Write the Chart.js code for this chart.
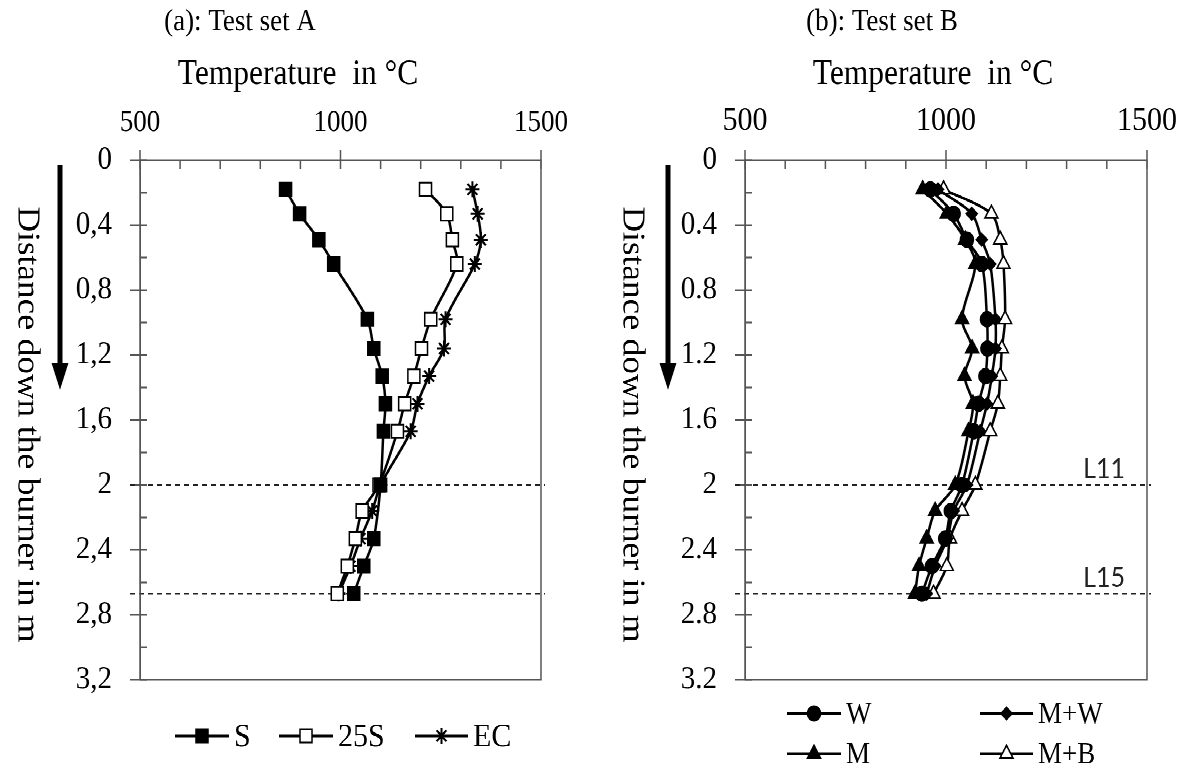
<!DOCTYPE html>
<html>
<head>
<meta charset="utf-8">
<script src="https://cdn.jsdelivr.net/npm/chart.js@4.4.1/dist/chart.umd.min.js"></script>
<style>
  html, body { margin: 0; background: #fff; }
  body { width: 1187px; height: 772px; overflow: hidden; }
  /* the source figure is stretched a little vertically, so the whole thing is too */
  #wrap { position: relative; width: 1187px; height: 689px; transform: scaleY(1.12); transform-origin: 0 0; }
  canvas { position: absolute; top: 0; }
  #chartA { left: 0; }
  #chartB { left: 600px; }
</style>
</head>
<body>
<div id="wrap">
  <canvas id="chartA" width="600" height="689"></canvas>
  <canvas id="chartB" width="587" height="689"></canvas>
</div>
<script>
// distance down the burner in m (same measuring levels in both test sets)
const distance = [0.18, 0.33, 0.49, 0.64, 0.98, 1.16, 1.33, 1.50, 1.67, 2.00, 2.16, 2.33, 2.50, 2.67];

// test set A, temperature in °C
const tempS   = [863, 898, 946, 983, 1067, 1083, 1104, 1112, 1107, 1100, null, 1083, 1058, 1033];
const temp25S = [1212, 1265, 1279, 1290, 1225, 1202, 1183, 1160, 1142, 1096, 1054, 1037, 1017, 992];
const tempEC  = [1329, 1342, 1350, 1335, 1262, 1258, 1221, 1192, 1175, 1100, 1079, 1050, 1025, 995];

// test set B, temperature in °C
const tempW  = [961, 1019, 1052, 1089, 1102, 1103, 1098, 1081, 1069, 1040, 1012, 998, 965, 940];
const tempMW = [980, 1064, 1089, 1110, 1123, 1123, 1114, 1102, 1085, 1052, 1019, 1003, 973, 952];
const tempM  = [942, 1002, 1048, 1073, 1040, 1065, 1046, 1067, 1056, 1023, 973, 952, 933, 923];
const tempMB = [994, 1113, 1135, 1143, 1147, 1139, 1135, 1129, 1110, 1073, 1040, 1010, 1002, 969];

const xTickLabels = ['500', '1000', '1500'];
const yTickLabelsA = ['0', '0,4', '0,8', '1,2', '1,6', '2', '2,4', '2,8', '3,2'];
const yTickLabelsB = ['0', '0.4', '0.8', '1.2', '1.6', '2', '2.4', '2.8', '3.2'];

// burner levels marked with dashed lines
const refLevels = [2.0, 2.67];
const refLabels = ['L11', 'L15'];

const axisColor = '#555';
const serif = "'Liberation Serif', 'Times New Roman', serif";
Chart.defaults.font.family = serif;
Chart.defaults.color = '#000';

const toPoints = temps => temps.map((t, i) => ({ x: t, y: distance[i] }));

// labelled ticks: every 500 °C and every 0.4 m
const xMajor = v => Math.round(v) % 500 === 0;
const yMajor = v => Math.round(v * 10) % 4 === 0;

function series(label, temps, style, radius, fill) {
  return {
    label,
    data: toPoints(temps),
    showLine: true,
    spanGaps: true,
    borderColor: '#000',
    borderWidth: 2.5,
    tension: 0.3,
    pointStyle: style,
    pointRadius: radius,
    pointHoverRadius: radius,
    pointBackgroundColor: fill,
    pointBorderColor: '#000',
    pointBorderWidth: style === 'star' ? 2 : 1.5
  };
}

// frame, inner ticks, dashed levels, titles, arrow and legend
const panelDecor = {
  id: 'panelDecor',
  beforeDatasetsDraw(chart, args, o) {
    const ctx = chart.ctx, a = chart.chartArea, ys = chart.scales.y;
    ctx.save();
    ctx.setLineDash([5, 4]);
    ctx.lineWidth = 1.2;
    ctx.strokeStyle = '#222';
    refLevels.forEach(v => {
      const py = ys.getPixelForValue(v);
      ctx.beginPath();
      ctx.moveTo(a.left - 10, py);
      ctx.lineTo(a.right + 4, py);
      ctx.stroke();
    });
    ctx.setLineDash([]);
    if (o.showLevels) {
      ctx.font = '25px Lato';
      ctx.fillStyle = '#222';
      ctx.textAlign = 'right';
      refLevels.forEach((v, i) => ctx.fillText(refLabels[i], a.right - 22, ys.getPixelForValue(v) - 6));
    }
    ctx.restore();
  },
  afterDraw(chart, args, o) {
    const ctx = chart.ctx, a = chart.chartArea;
    const xs = chart.scales.x, ys = chart.scales.y;
    ctx.save();

    ctx.strokeStyle = axisColor;
    ctx.lineWidth = 1.5;
    ctx.strokeRect(a.left, a.top, a.right - a.left, a.bottom - a.top);
    ctx.beginPath();
    xs.ticks.forEach(t => {
      const px = xs.getPixelForValue(t.value);
      ctx.moveTo(px, a.top);
      ctx.lineTo(px, a.top + 8);
    });
    ys.ticks.forEach(t => {
      const py = ys.getPixelForValue(t.value);
      ctx.moveTo(a.left, py);
      ctx.lineTo(a.left + 7, py);
    });
    ctx.stroke();

    ctx.fillStyle = '#000';
    ctx.textAlign = 'center';
    ctx.font = '27px ' + serif;
    ctx.fillText(o.title, o.titleX, 27);
    ctx.font = '31.5px ' + serif;
    ctx.fillText('Temperature  in °C', o.xTitleX, 75);

    ctx.save();
    ctx.translate(o.yTitleX, 379);
    ctx.rotate(Math.PI / 2);
    ctx.textBaseline = 'middle';
    ctx.fillText('Distance down the burner in m', 0, 0);
    ctx.restore();

    // arrow pointing down the burner
    const top = 147, tip = 348, head = 24;
    ctx.fillRect(o.arrowX - 2.5, top, 5, tip - head - top + 1);
    ctx.beginPath();
    ctx.moveTo(o.arrowX - 8.5, tip - head);
    ctx.lineTo(o.arrowX + 8.5, tip - head);
    ctx.lineTo(o.arrowX, tip);
    ctx.closePath();
    ctx.fill();

    // legend: a short line with the series' own point element in the middle
    ctx.font = o.legendFont + 'px ' + serif;
    ctx.textAlign = 'left';
    o.legend.forEach(it => {
      const ds = chart.data.datasets[it.ds];
      const ref = chart.getDatasetMeta(it.ds).data.find(p => !p.skip);
      ctx.strokeStyle = '#000';
      ctx.lineWidth = 2.5;
      ctx.beginPath();
      ctx.moveTo(it.x1, it.y);
      ctx.lineTo(it.x2, it.y);
      ctx.stroke();
      if (ref) {
        const Point = ref.constructor;
        const mark = new Point({ x: (it.x1 + it.x2) / 2, y: it.y, skip: false, options: ref.options });
        mark.options = ref.options;
        mark.draw(ctx);
      }
      ctx.fillStyle = '#000';
      ctx.fillText(ds.label, it.x2 + 5, it.y + o.legendFont * 0.32);
    });
    ctx.restore();
  }
};

function makeChart(id, datasets, yLabels, xTickSize, p) {
  return new Chart(document.getElementById(id), {
    type: 'scatter',
    data: { datasets },
    plugins: [panelDecor],
    options: {
      responsive: false,
      animation: false,
      devicePixelRatio: 2,
      layout: { padding: { top: 0, left: 0, right: p.padRight, bottom: 82 } },
      plugins: {
        legend: { display: false },
        tooltip: { enabled: false },
        panelDecor: p
      },
      scales: {
        x: {
          type: 'linear',
          position: 'top',
          min: 500,
          max: 1500,
          afterFit: s => { s.height = 143; },
          border: { color: axisColor, width: 1.5 },
          grid: {
            drawOnChartArea: false,
            tickLength: 9,
            tickWidth: 1.5,
            tickColor: c => (c.tick && xMajor(c.tick.value)) ? axisColor : 'transparent'
          },
          ticks: {
            stepSize: 100,
            autoSkip: false,
            maxRotation: 0,
            padding: 8,
            font: { size: xTickSize },
            callback: v => xMajor(v) ? xTickLabels[Math.round((v - 500) / 500)] : ''
          }
        },
        y: {
          type: 'linear',
          reverse: true,
          min: 0,
          max: 3.2,
          afterFit: s => { s.width = p.axisLeft; },
          border: { color: axisColor, width: 1.5 },
          grid: {
            drawOnChartArea: false,
            tickLength: 10,
            tickWidth: 1.5,
            tickColor: c => (c.tick && yMajor(c.tick.value)) ? axisColor : 'transparent'
          },
          ticks: {
            stepSize: 0.2,
            autoSkip: false,
            padding: 18,
            font: { size: 29 },
            callback: v => yMajor(v) ? yLabels[Math.round(v * 10) / 4] : ''
          }
        }
      }
    }
  });
}

makeChart('chartA', [
  series('S', tempS, 'rect', 8.5, '#000'),
  series('25S', temp25S, 'rect', 8.5, '#fff'),
  series('EC', tempEC, 'star', 7, '#000')
], yTickLabelsA, 27, {
  padRight: 59, axisLeft: 140,
  title: '(a): Test set A', titleX: 240, xTitleX: 298, yTitleX: 27, arrowX: 60,
  showLevels: false,
  legendFont: 30,
  legend: [
    { ds: 0, x1: 175, x2: 229, y: 657 },
    { ds: 1, x1: 279, x2: 333, y: 657 },
    { ds: 2, x1: 415, x2: 468, y: 657 }
  ]
});

makeChart('chartB', [
  series('W', tempW, 'circle', 6.5, '#000'),
  series('M+W', tempMW, 'rectRot', 5.5, '#000'),
  series('M', tempM, 'triangle', 7.5, '#000'),
  series('M+B', tempMB, 'triangle', 7.5, '#fff')
], yTickLabelsB, 30, {
  padRight: 40, axisLeft: 145,
  title: '(b): Test set B', titleX: 282, xTitleX: 333, yTitleX: 32, arrowX: 68,
  showLevels: true,
  legendFont: 27,
  legend: [
    { ds: 0, x1: 187, x2: 241, y: 637 },
    { ds: 1, x1: 380, x2: 433, y: 637 },
    { ds: 2, x1: 187, x2: 241, y: 673 },
    { ds: 3, x1: 380, x2: 433, y: 673 }
  ]
});
</script>
</body>
</html>
